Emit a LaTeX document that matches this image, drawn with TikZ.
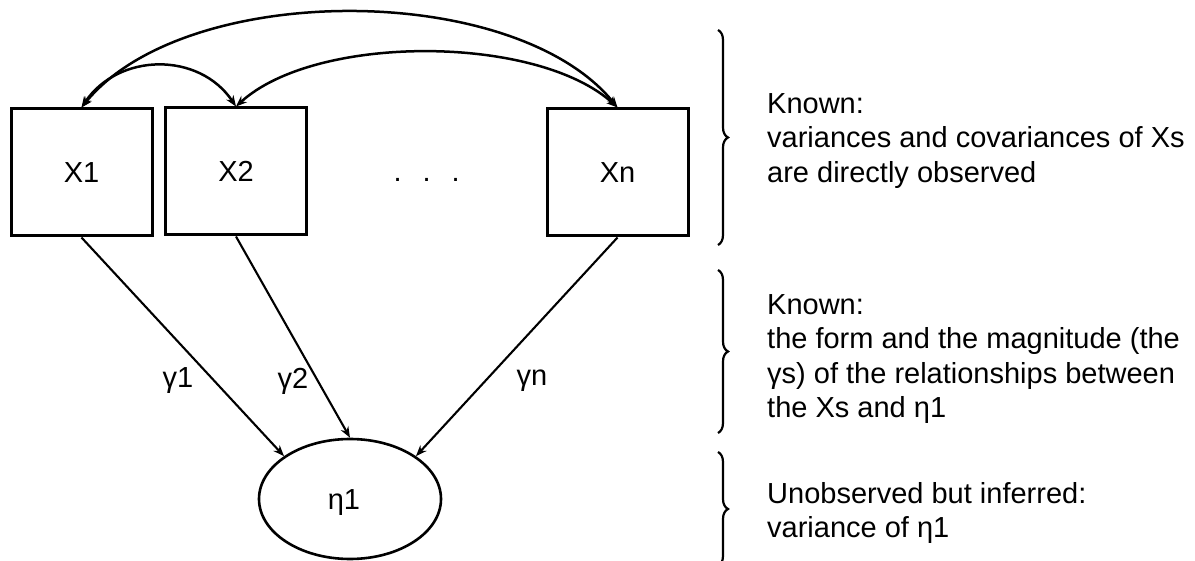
\documentclass[tikz,border=0pt]{standalone}
\usepackage{fontspec}
\setmainfont{Liberation Sans}
\usetikzlibrary{arrows.meta,decorations.pathreplacing,shapes.geometric}
\begin{document}
\begin{tikzpicture}[x=1pt,y=-1pt,
  font=\fontsize{29}{34.5}\selectfont,
  >={Stealth[length=11pt,width=8.5pt]},
  obs/.style={draw, line width=3pt, minimum width=141pt, minimum height=127pt, inner sep=0pt},
  lat/.style={draw, ellipse, line width=2.6pt, minimum width=182pt, minimum height=120pt, inner sep=0pt},
  regline/.style={line width=2.1pt, ->},
  covline/.style={line width=2.5pt, <->},
  bracedeco/.style={line width=2.2pt, decorate, decoration={brace, amplitude=10pt}},
  note/.style={anchor=west, align=left, inner sep=0pt},
  coef/.style={inner sep=0pt}
]
\useasboundingbox (0,0) rectangle (1195,561);
\clip (0,0) rectangle (1195,561);
\fill[white] (0,0) rectangle (1195,561);

% observed variables
\node[obs] (x1) at (81.5,172.5) {X1};
\node[obs] (x2) at (236,171.5) {X2};
\node[obs] (xn) at (617.5,172.5) {Xn};
\node[anchor=base] (dots) at (426.7,182) {.\hspace{21pt}.\hspace{21pt}.};

% latent variable (label set a little left of and below the centre)
\node[lat, text height=26.8pt, text depth=6pt] (eta) at (350,499) {\hspace*{-12pt}η1};

% path coefficients
\node[coef] (g1) at (178,381) {γ1};
\node[coef] (g2) at (293,381) {γ2};
\node[coef] (gn) at (532,381) {γn};

% regressions of eta on the Xs
\draw[regline] (x1.south) -- (eta.147);
\draw[regline] (x2.south) -- (eta.north);
\draw[regline] (xn.south) -- (eta.33);

% covariances among the Xs
\draw[covline] (x1.north) .. controls +(103,-127) and +(-103,-127) .. (xn.north);
\draw[covline] (x2.north) .. controls +(80,-73) and +(-80,-73) .. (xn.north);
\draw[covline] (x1.north) .. controls +(37,-55) and +(-37,-55) .. (x2.north);

% braces and notes
\draw[bracedeco] (718,30) -- (718,245);
\draw[bracedeco] (718,270) -- (718,433);
\draw[bracedeco] (718,452) -- (718,566);

\node[note] (k1) at (767,141) {Known:\\variances and covariances of Xs\\are directly observed};
\node[note] (k2) at (767,359) {Known:\\the form and the magnitude (the\\γs) of the relationships between\\the Xs and η1};
\node[note] (k3) at (767,513) {Unobserved but inferred:\\variance of η1};
\end{tikzpicture}
\end{document}
